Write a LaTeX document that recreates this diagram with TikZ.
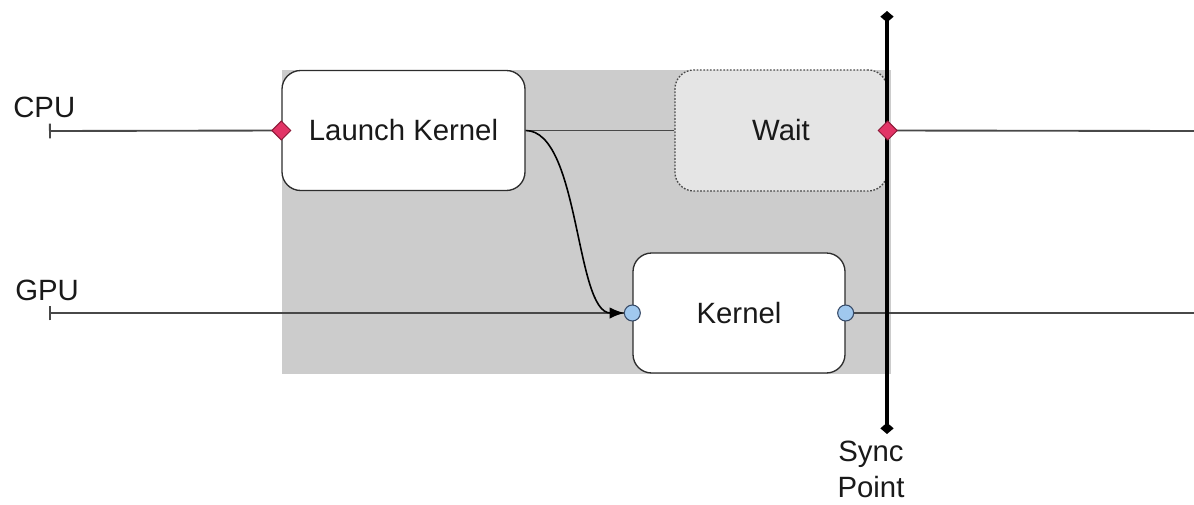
\documentclass[tikz,border=0pt]{standalone}
\usepackage{fontspec}
\setmainfont{Liberation Sans}
\usepackage{xcolor}
\usetikzlibrary{arrows.meta,positioning,shapes.geometric}

\definecolor{shadegray}{RGB}{204,204,204}
\definecolor{waitgray}{RGB}{229,229,229}
\definecolor{linegray}{RGB}{72,72,72}
\definecolor{boxline}{RGB}{45,45,45}
\definecolor{textblack}{RGB}{25,25,25}
\definecolor{portred}{RGB}{226,52,102}
\definecolor{portreddark}{RGB}{140,25,55}
\definecolor{portblue}{RGB}{160,200,238}
\definecolor{portbluedark}{RGB}{55,75,105}

\begin{document}
\begin{tikzpicture}[x=0.75pt,y=0.75pt,yscale=-1,xscale=1,
  box/.style={draw=boxline, line width=1pt, rounded corners=14pt, fill=white,
    font=\fontsize{22}{26}\selectfont, text=textblack, inner sep=0pt},
  waitbox/.style={box, draw=linegray, fill=waitgray, dash pattern={on 1.3pt off 1.2pt}},
  lane/.style={draw=linegray, line width=1.4pt},
  lanelabel/.style={font=\fontsize{22}{26}\selectfont, text=textblack, inner sep=0pt},
  redport/.style={diamond, aspect=1, minimum size=14.5pt, inner sep=0pt, fill=portred, draw=portreddark, line width=0.7pt},
  blueport/.style={circle, minimum size=12pt, inner sep=0pt, fill=portblue, draw=portbluedark, line width=0.8pt}
]
  \useasboundingbox (0,0) rectangle (1194,504);

  % shaded region
  \fill [shadegray] (282,70) rectangle (891,374);

  % boxes
  \node [box, minimum width=182.25pt, minimum height=90pt] (launch) at (403.5,130.5) {Launch Kernel};
  \node [waitbox, minimum width=159pt, minimum height=90.75pt] (wait) at (781,130.5) {Wait};
  \node [box, minimum width=159pt, minimum height=90pt] (kernel) at (739,313) {Kernel};

  % lane ends
  \coordinate (cpustart) at (49,131);
  \coordinate (cpuend) at (1194,131);
  \coordinate (gpustart) at (49,313);
  \coordinate (gpuend) at (1194,313);
  \coordinate (synctop) at (887,11);
  \coordinate (syncbot) at (887,434);

  % Text Node
  \node [lanelabel, anchor=base west] (cpu) at (13,117) {CPU};
  % Text Node
  \node [lanelabel, anchor=base west] (gpu) at (15,300) {GPU};

  % lanes
  \draw [lane, {Bar[width=11pt]}-] (cpustart) -- (launch.west);
  \draw [lane] (launch.east) -- (wait.west);
  \draw [lane] (wait.east) -- (cpuend);
  \draw [lane, {Bar[width=11pt]}-] (gpustart) -- (kernel.west);
  \draw [lane] (kernel.east) -- (gpuend);

  % launch -> kernel
  \draw [line width=1.2pt, black, -{Latex[length=11pt,width=8.5pt]}, shorten >=6pt]
    (launch.east) .. controls (580,131) and (575,313) .. (kernel.west);

  % sync point
  \draw [line width=2.4pt, black, {Turned Square[width=10pt,length=8.5pt]}-{Turned Square[width=10pt,length=8.5pt]}]
    (synctop) -- (syncbot);
  % Text Node
  \node [lanelabel, align=center, anchor=north, font=\fontsize{22}{26.5}\selectfont] (synclabel) at (871,441) {Sync\\Point};

  % ports
  \node [redport] (launchin) at (launch.west) {};
  \node [redport] (waitout) at (wait.east) {};
  \node [blueport] (kernelin) at (kernel.west) {};
  \node [blueport] (kernelout) at (kernel.east) {};
\end{tikzpicture}
\end{document}
